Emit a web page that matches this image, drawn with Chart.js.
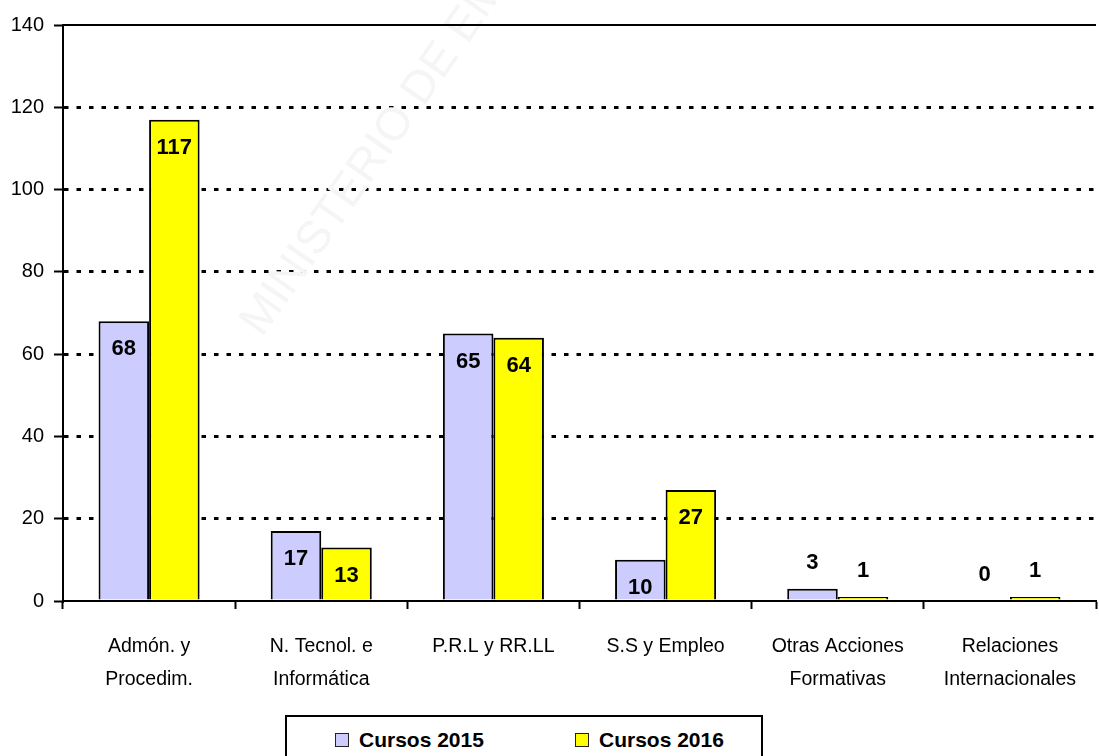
<!DOCTYPE html>
<html>
<head>
<meta charset="utf-8">
<script src="https://cdn.jsdelivr.net/npm/chart.js@4"></script>
<style>
  body { margin: 0; background: #fff; }
  #wrap { position: relative; width: 1099px; height: 756px; overflow: hidden; }
  #legend {
    position: absolute; left: 285px; top: 715px; width: 474px; height: 60px;
    border: 2px solid #000; background: #fff;
    font-family: 'Liberation Sans', Arial, sans-serif; font-weight: bold; font-size: 21px;
  }
  .item { position: absolute; top: 11px; display: flex; align-items: center; }
  .sw { width: 12px; height: 12px; border: 1.5px solid #222; margin-right: 10px; }
</style>
</head>
<body>
<div id="wrap">
  <canvas id="chart" width="1099" height="756"></canvas>
  <div id="legend"></div>
</div>
<script>
// Categorías y valores
const categories = [
    ['Admón. y', 'Procedim.'],
    ['N. Tecnol. e', 'Informática'],
    ['P.R.L y RR.LL'],
    ['S.S y Empleo'],
    ['Otras Acciones', 'Formativas'],
    ['Relaciones', 'Internacionales']
];
const cursos2015 = [68, 17, 65, 10, 3, 0];
const cursos2016 = [117, 13, 64, 27, 1, 1];
const seriesNames = ['Cursos 2015', 'Cursos 2016'];
const seriesColors = ['#CCCCFF', '#FFFF00'];

const FONT = "'Liberation Sans', Arial, sans-serif";

// marca de agua y línea superior
const background = {
    id: 'background',
    beforeDatasetsDraw(chart) {
        const ctx = chart.ctx;
        ctx.save();
        ctx.translate(262, 338);
        ctx.rotate(-55 * Math.PI / 180);
        ctx.font = '46px ' + FONT;
        ctx.fillStyle = '#f5f5f5';
        ctx.textBaseline = 'alphabetic';
        ctx.fillText('MINISTERIO DE EMPLEO Y SEGURIDAD SOCIAL', 0, 0);
        ctx.restore();
    },
    afterDraw(chart) {
        const a = chart.chartArea;
        const ctx = chart.ctx;
        ctx.save();
        ctx.strokeStyle = '#000';
        ctx.lineWidth = 2;
        ctx.beginPath();
        ctx.moveTo(a.left, a.top);
        ctx.lineTo(a.right, a.top);
        ctx.stroke();
        ctx.restore();
    }
};

// etiquetas de valores
const valueLabels = {
    id: 'valueLabels',
    afterDatasetsDraw(chart) {
        const ctx = chart.ctx;
        ctx.save();
        ctx.font = 'bold 22px ' + FONT;
        ctx.fillStyle = '#000';
        ctx.textAlign = 'center';
        ctx.textBaseline = 'middle';
        chart.data.datasets.forEach((ds, i) => {
            chart.getDatasetMeta(i).data.forEach((bar, j) => {
                const v = ds.data[j];
                const y = v >= 10 ? bar.y + 28 : bar.y - 26;
                ctx.fillText(String(v), bar.x, y);
            });
        });
        ctx.restore();
    }
};

const ctx = document.getElementById('chart').getContext('2d');
const chart = new Chart(ctx, {
    type: 'bar',
    data: {
        labels: categories,
        datasets: [{
            label: seriesNames[0],
            data: cursos2015,
            backgroundColor: seriesColors[0],
            borderColor: '#000',
            borderWidth: 2,
            borderSkipped: 'bottom'
        }, {
            label: seriesNames[1],
            data: cursos2016,
            backgroundColor: seriesColors[1],
            borderColor: '#000',
            borderWidth: 2,
            borderSkipped: 'bottom'
        }]
    },
    options: {
        responsive: false,
        animation: false,
        events: [],
        layout: { padding: { top: 25, right: 3, left: 0, bottom: 0 } },
        datasets: { bar: { categoryPercentage: 0.587, barPercentage: 1.0 } },
        plugins: {
            legend: { display: false },
            tooltip: { enabled: false }
        },
        scales: {
            x: {
                grid: {
                    drawOnChartArea: false,
                    drawTicks: true,
                    tickLength: 8,
                    tickWidth: 2,
                    tickColor: '#000'
                },
                border: { color: '#000', width: 2 },
                ticks: {
                    color: '#000',
                    font: { family: FONT, size: 19.5, lineHeight: 1.7 },
                    padding: 21,
                    maxRotation: 0,
                    autoSkip: false
                },
                afterFit(scale) { scale.height = 155; }
            },
            y: {
                min: 0,
                max: 140,
                grid: {
                    color: c => (c.tick && (c.tick.value === 0 || c.tick.value === 140)) ? 'rgba(0,0,0,0)' : '#000',
                    lineWidth: 3,
                    tickLength: 9,
                    tickWidth: 2,
                    tickColor: '#000',
                    tickBorderDash: []
                },
                border: { color: '#000', width: 2, dash: [4.5, 8] },
                ticks: {
                    stepSize: 20,
                    color: '#000',
                    font: { family: FONT, size: 20 },
                    padding: 10
                },
                afterFit(scale) { scale.width = 63; }
            }
        }
    },
    plugins: [background, valueLabels]
});

// leyenda
const legend = document.getElementById('legend');
const lefts = [48, 288];
seriesNames.forEach((name, i) => {
    const it = document.createElement('div');
    it.className = 'item';
    it.style.left = lefts[i] + 'px';
    it.innerHTML = '<span class="sw" style="background:' + seriesColors[i] + '"></span><span>' + name + '</span>';
    legend.appendChild(it);
});
</script>
</body>
</html>
